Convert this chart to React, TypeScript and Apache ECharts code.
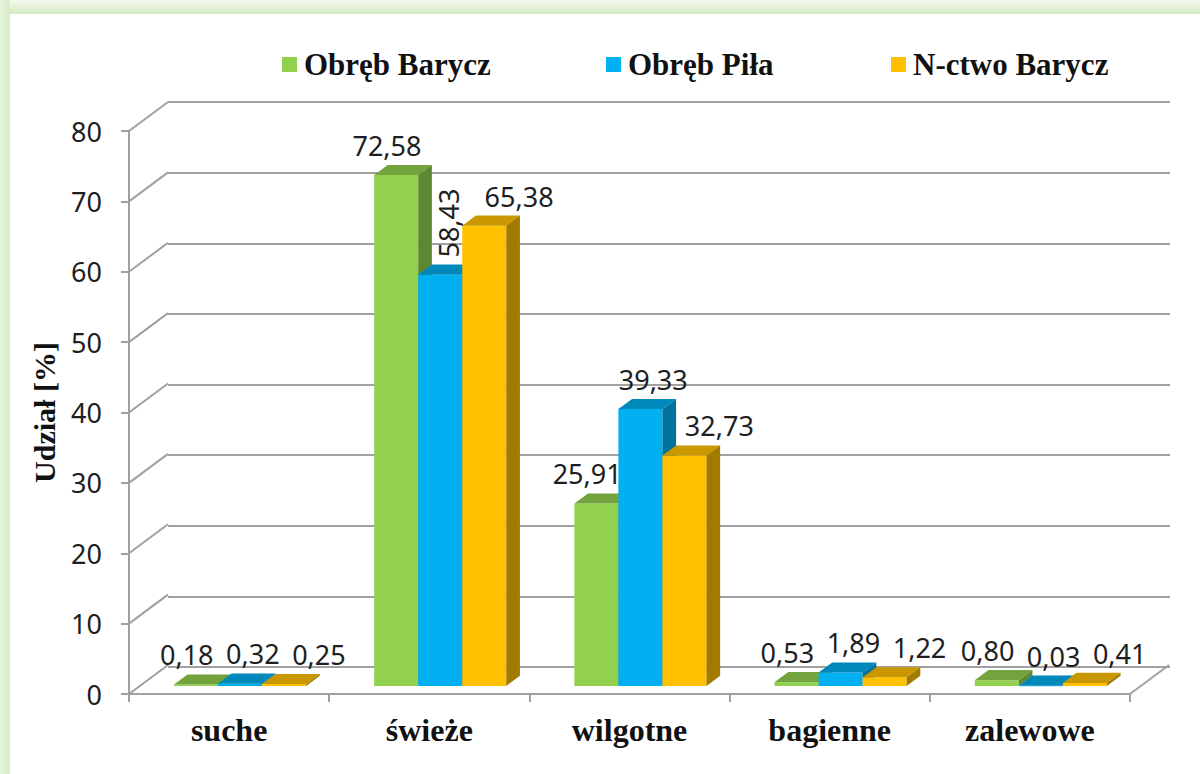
import React, { useEffect, useRef } from "react";
import * as echarts from "echarts";

const categories = ["suche", "świeże", "wilgotne", "bagienne", "zalewowe"];
const seriesNames = ["Obręb Barycz", "Obręb Piła", "N-ctwo Barycz"];
const obrebBarycz = [0.18, 72.58, 25.91, 0.53, 0.8];
const obrebPila = [0.32, 58.43, 39.33, 1.89, 0.03];
const nctwoBarycz = [0.25, 65.38, 32.73, 1.22, 0.41];
const yTicks = [0, 10, 20, 30, 40, 50, 60, 70, 80];
const yTitle = "Udział [%]";

const seriesValues = [obrebBarycz, obrebPila, nctwoBarycz];
const frontColors = ["#92d050", "#00b0f0", "#ffc000"];
const topColors = ["#72a33d", "#0088bb", "#c99700"];
const sideColors = ["#5c8832", "#00729e", "#a27a00"];

// 3D projection of the wall depth (front plane -> back wall), in pixels
const DX = 39;
const DY = -29;
const PLANE = 0.28; // bar front plane as fraction of depth
const DEPTH = 0.35; // bar depth as fraction of depth
const BAR_FR = 0.22; // bar width as fraction of category band

const fmt = (v: number) => v.toFixed(2).replace(".", ",");
const labelFont = "'Noto Sans', 'Open Sans', sans-serif";
const serifFont = "'Liberation Serif', 'DejaVu Serif', serif";

export default function App() {
  const ref = useRef<HTMLDivElement>(null);
  useEffect(() => {
    if (!ref.current) return;
    const chart = echarts.init(ref.current, null, { renderer: "svg" });

    const barSeries = seriesValues.map((vals, s) => ({
      type: "custom",
      name: seriesNames[s],
      xAxisIndex: 1,
      yAxisIndex: 1,
      itemStyle: { color: frontColors[s] },
      data: vals.map((v, i) => [i, v]),
      encode: { x: 0, y: 1 },
      renderItem: (params: any, api: any) => {
        const i = api.value(0);
        const v = api.value(1);
        const base = api.coord([i, 0]);
        const top = api.coord([i, v]);
        const band = api.size([1, 0])[0];
        const bw = band * BAR_FR;
        const ox = PLANE * DX;
        const oy = PLANE * DY;
        const xl = base[0] + ox + (s - 1.5) * bw;
        const xr = xl + bw;
        const yb = base[1] + oy;
        const yt = top[1] + oy;
        const dx = DEPTH * DX;
        const dy = DEPTH * DY;
        const children: any[] = [
          {
            type: "rect",
            shape: { x: xl, y: yt, width: bw, height: Math.max(yb - yt, 0.5) },
            style: { fill: frontColors[s] },
          },
          {
            type: "polygon",
            shape: { points: [[xl, yt], [xr, yt], [xr + dx, yt + dy], [xl + dx, yt + dy]] },
            style: { fill: topColors[s] },
          },
          {
            type: "polygon",
            shape: { points: [[xr, yt], [xr + dx, yt + dy], [xr + dx, yb + dy], [xr, yb]] },
            style: { fill: sideColors[s] },
          },
        ];
        // label placement: vertical when squeezed between two taller neighbours
        const prev = s > 0 ? seriesValues[s - 1][i] : -Infinity;
        const next = s < seriesValues.length - 1 ? seriesValues[s + 1][i] : -Infinity;
        const squeezed = s > 0 && s < seriesValues.length - 1 && v < prev - 4 && v < next - 4;
        const groupCenter = base[0] + ox + dx / 2;
        if (squeezed) {
          children.push({
            type: "text",
            x: xl + bw / 2 + dx / 2 + 1,
            y: yt + dy - 7,
            rotation: Math.PI / 2,
            z2: 100,
            style: {
              text: fmt(v),
              font: `27px ${labelFont}`,
              fill: "#1e1e1e",
              align: "left",
              verticalAlign: "middle",
            },
          });
        } else {
          children.push({
            type: "text",
            x: groupCenter + (s - 1) * bw * 1.5 + 6,
            y: yt + dy - 6,
            z2: 100,
            style: {
              text: fmt(v),
              font: `27px ${labelFont}`,
              fill: "#1e1e1e",
              align: "center",
              verticalAlign: "bottom",
            },
          });
        }
        return { type: "group", children };
      },
    }));

    const option: any = {
      animation: false,
      backgroundColor: "#ffffff",
      graphic: [
        {
          type: "rect",
          shape: { x: 0, y: 0, width: 1200, height: 14 },
          style: {
            fill: new echarts.graphic.LinearGradient(0, 0, 0, 1, [
              { offset: 0, color: "#f3f9ee" },
              { offset: 1, color: "#d3eabf" },
            ]),
          },
          z: -10,
        },
        {
          type: "rect",
          shape: { x: 0, y: 0, width: 10, height: 774 },
          style: {
            fill: new echarts.graphic.LinearGradient(0, 0, 1, 0, [
              { offset: 0, color: "#e6f3dc" },
              { offset: 1, color: "#d6ecc6" },
            ]),
          },
          z: -10,
        },
      ],
      legend: seriesNames.map((n, k) => ({
        data: [{ name: n, icon: "rect" }],
        left: [277, 601, 886][k],
        top: 44,
        itemWidth: 15,
        itemHeight: 15,
        itemGap: 0,
        selectedMode: false,
        textStyle: {
          fontFamily: serifFont,
          fontWeight: "bold",
          fontSize: 31,
          color: "#111111",
          padding: [0, 0, 0, 2],
        },
      })),
      grid: [
        { left: 168, right: 30, top: 102, bottom: 107 },
        { left: 129, right: 70, top: 131, bottom: 80 },
      ],
      xAxis: [
        { type: "category", gridIndex: 0, data: categories, show: false },
        {
          type: "category",
          gridIndex: 1,
          data: categories,
          axisLine: { show: true, lineStyle: { color: "#a0a0a0", width: 2 } },
          axisTick: { show: true, length: 8, lineStyle: { color: "#a0a0a0", width: 2 } },
          axisLabel: {
            margin: 20,
            fontFamily: serifFont,
            fontWeight: "bold",
            fontSize: 32,
            color: "#111111",
          },
        },
      ],
      yAxis: [
        {
          type: "value",
          gridIndex: 0,
          min: 0,
          max: 80,
          interval: 10,
          axisLine: { show: false },
          axisTick: { show: false },
          axisLabel: { show: false },
          splitLine: { show: true, lineStyle: { color: "#a0a0a0", width: 2 } },
        },
        {
          type: "value",
          gridIndex: 1,
          min: 0,
          max: 80,
          interval: 10,
          name: yTitle,
          nameLocation: "middle",
          nameGap: 70,
          nameRotate: 90,
          nameTextStyle: {
            fontFamily: serifFont,
            fontWeight: "bold",
            fontSize: 30,
            color: "#111111",
          },
          axisLine: { show: true, lineStyle: { color: "#a0a0a0", width: 2 } },
          axisTick: { show: true, length: 8, lineStyle: { color: "#a0a0a0", width: 2 } },
          axisLabel: {
            margin: 27,
            fontFamily: labelFont,
            fontSize: 27,
            color: "#1e1e1e",
          },
          splitLine: { show: false },
        },
      ],
      series: [
        {
          type: "custom",
          xAxisIndex: 1,
          yAxisIndex: 1,
          silent: true,
          data: yTicks.map((t) => [0, t]),
          encode: { x: 0, y: 1 },
          z: 1,
          renderItem: (params: any, api: any) => {
            const t = api.value(1);
            const y = api.coord([0, t])[1];
            const x0 = params.coordSys.x;
            const lines: any[] = [
              {
                type: "line",
                shape: { x1: x0, y1: y, x2: x0 + DX, y2: y + DY },
                style: { stroke: "#a0a0a0", lineWidth: 2 },
              },
            ];
            if (t === 0) {
              const x1 = params.coordSys.x + params.coordSys.width;
              lines.push({
                type: "line",
                shape: { x1: x1, y1: y, x2: x1 + DX, y2: y + DY },
                style: { stroke: "#a0a0a0", lineWidth: 2 },
              });
            }
            return { type: "group", children: lines };
          },
        },
        ...barSeries,
      ],
    };
    chart.setOption(option);
    return () => chart.dispose();
  }, []);

  return (
    <div
      ref={ref}
      style={{ position: "absolute", left: 0, top: 0, width: 1200, height: 774 }}
    />
  );
}
